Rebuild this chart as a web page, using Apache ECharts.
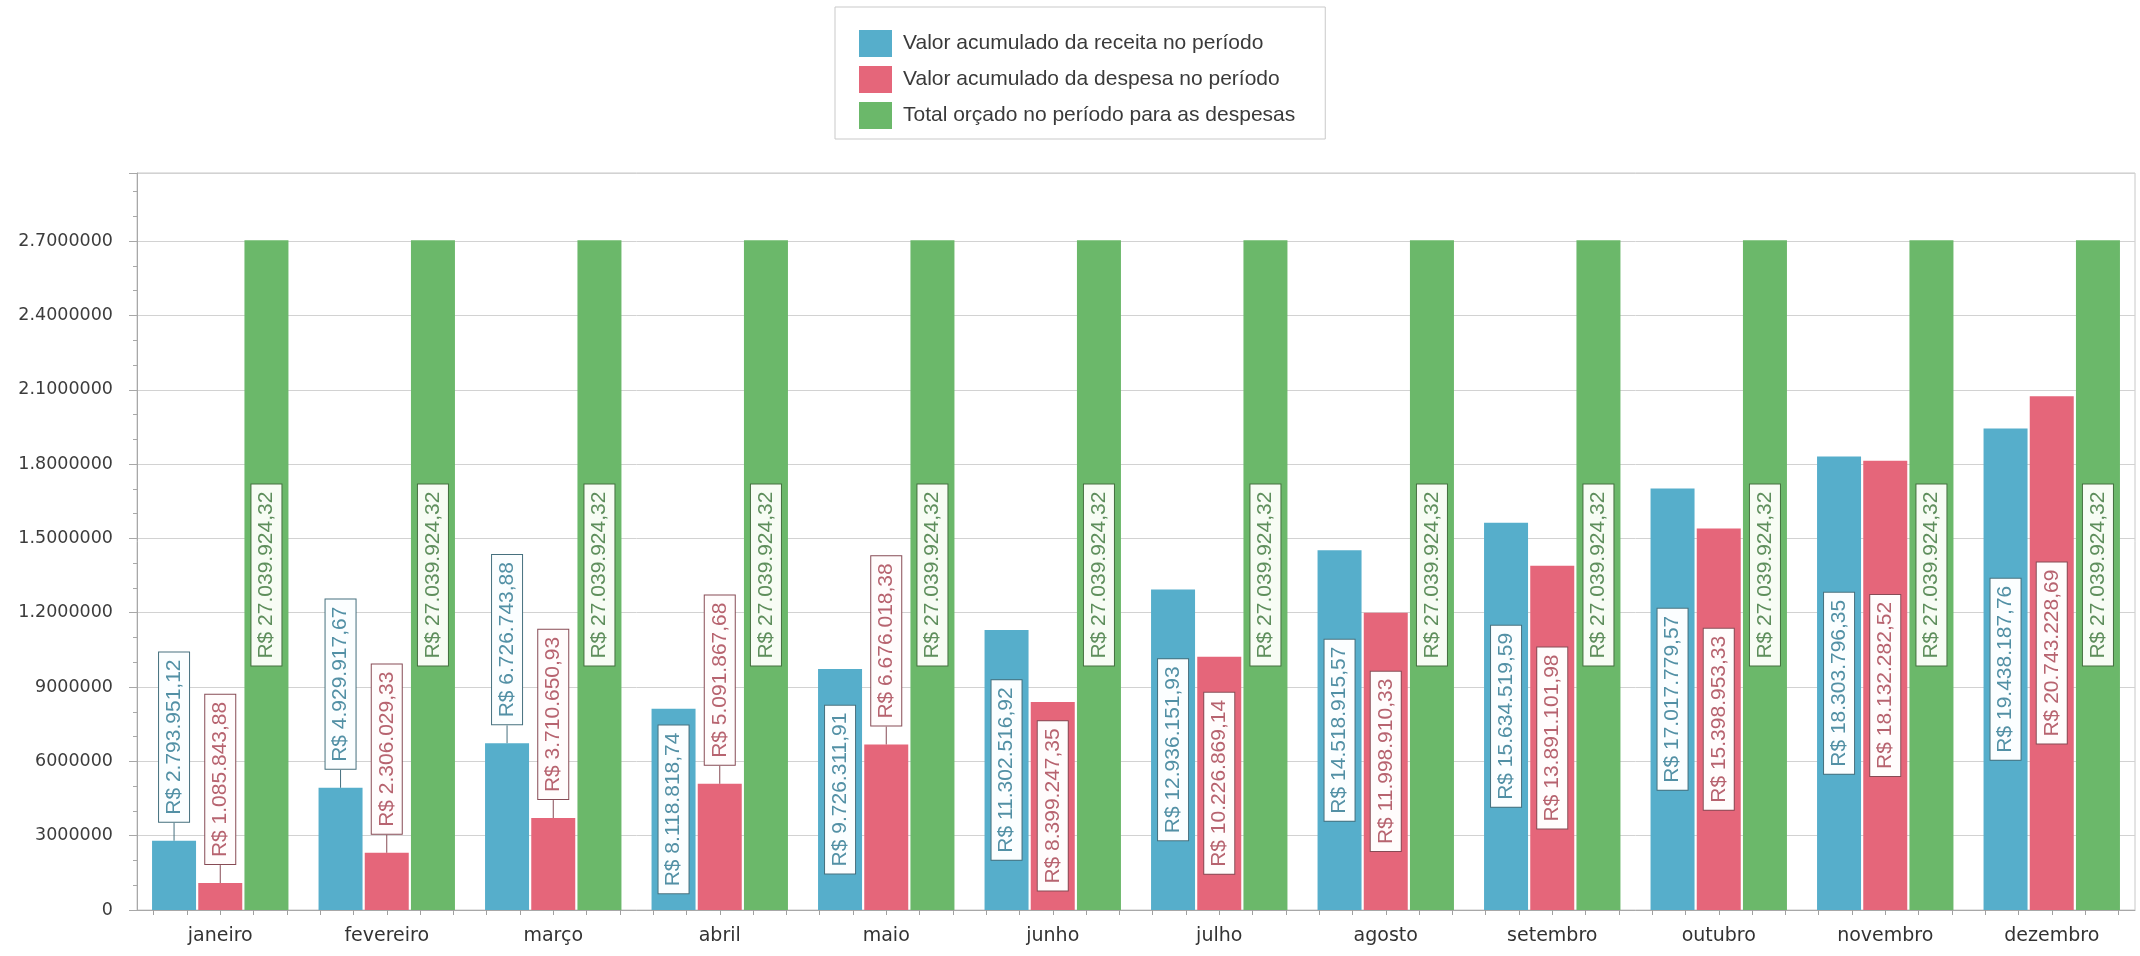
<!DOCTYPE html>
<html>
<head>
<meta charset="utf-8">
<script src="https://cdn.jsdelivr.net/npm/echarts@6/dist/echarts.min.js"></script>
<style>
  html, body { margin: 0; padding: 0; background: #ffffff; }
  #chart { width: 2140px; height: 956px; }
</style>
</head>
<body>
<div id="chart"></div>
<script>
// ---------------- data ----------------
const months = ['janeiro', 'fevereiro', 'março', 'abril', 'maio', 'junho',
                'julho', 'agosto', 'setembro', 'outubro', 'novembro', 'dezembro'];

const receita = [2793951.12, 4929917.67, 6726743.88, 8118818.74, 9726311.91, 11302516.92,
                 12936151.93, 14518915.57, 15634519.59, 17017779.57, 18303796.35, 19438187.76];

const despesa = [1085843.88, 2306029.33, 3710650.93, 5091867.68, 6676018.38, 8399247.35,
                 10226869.14, 11998910.33, 13891101.98, 15398953.33, 18132282.52, 20743228.69];

const orcado = [27039924.32, 27039924.32, 27039924.32, 27039924.32, 27039924.32, 27039924.32,
                27039924.32, 27039924.32, 27039924.32, 27039924.32, 27039924.32, 27039924.32];

const seriesNames = ['Valor acumulado da receita no período',
                     'Valor acumulado da despesa no período',
                     'Total orçado no período para as despesas'];

const yTickLabels = ['0', '3000000', '6000000', '9000000', '1.2000000', '1.5000000',
                     '1.8000000', '2.1000000', '2.4000000', '2.7000000'];

// ---------------- helpers ----------------
function brl(v) {
  const neg = v < 0;
  const cents = Math.round(Math.abs(v) * 100);
  let intPart = Math.floor(cents / 100).toString();
  const dec = (cents % 100).toString().padStart(2, '0');
  intPart = intPart.replace(/\B(?=(\d{3})+(?!\d))/g, '.');
  return (neg ? '-' : '') + 'R$ ' + intPart + ',' + dec;
}

const OUTSIDE_LIMIT = 7500000;

const styles = [
  { bar: '#56aecb', text: '#5290a5', border: '#46707e', bg: '#fbfeff' },
  { bar: '#e5667a', text: '#b7636f', border: '#874b55', bg: '#fffcfc' },
  { bar: '#6bb86a', text: '#5e8e5c', border: '#44703f', bg: '#f7fcf4' }
];

function baseLabel(st) {
  return {
    show: true,
    rotate: 90,
    formatter: (p) => brl(p.value),
    fontFamily: 'Liberation Sans',
    fontSize: 21,
    color: st.text,
    backgroundColor: st.bg,
    borderColor: st.border,
    borderWidth: 1,
    padding: [5, 7, 4, 7]
  };
}

function buildData(values, st, allowOutside) {
  return values.map((v) => {
    const outside = allowOutside && v < OUTSIDE_LIMIT;
    if (outside) {
      return {
        value: v,
        label: { position: 'top', distance: 19, align: 'left', verticalAlign: 'middle' },
        labelLine: { show: true, length2: 0, lineStyle: { color: st.border, width: 1 } }
      };
    }
    return {
      value: v,
      label: { position: 'inside', align: 'center', verticalAlign: 'middle' },
      labelLine: { show: false }
    };
  });
}

const tickSlots = [];
for (let i = 0; i < months.length * 5; i++) tickSlots.push('');

function makeSeries(idx, values, allowOutside) {
  const st = styles[idx];
  return {
    name: seriesNames[idx],
    type: 'bar',
    xAxisIndex: 0,
    yAxisIndex: 0,
    barWidth: 44,
    barGap: '5%',
    itemStyle: { color: st.bar },
    label: baseLabel(st),
    labelLine: { show: false },
    data: buildData(values, st, allowOutside),
    animation: false
  };
}

const chart = echarts.init(document.getElementById('chart'), null, { renderer: 'canvas' });

chart.setOption({
  backgroundColor: '#ffffff',
  animation: false,
  legend: {
    orient: 'vertical',
    left: 835,
    top: 7,
    padding: [23, 30, 10, 24],
    itemWidth: 33,
    itemHeight: 27,
    itemGap: 9,
    icon: 'rect',
    borderColor: '#c9c9c9',
    borderWidth: 1,
    backgroundColor: '#ffffff',
    textStyle: { fontFamily: 'Liberation Sans', fontSize: 21, color: '#3a3a3a', padding: [0, 0, 0, 6] },
    data: seriesNames
  },
  grid: {
    left: 137,
    right: 5,
    top: 173,
    bottom: 46,
    show: true,
    borderColor: '#c8c8c8',
    borderWidth: 1
  },
  xAxis: [
    {
      type: 'category',
      position: 'bottom',
      data: months,
      axisLine: { show: true, lineStyle: { color: '#a8a8a8' } },
      axisTick: { show: false },
      axisLabel: { fontFamily: 'DejaVu Sans', fontSize: 19, color: '#333333', margin: 17 },
      splitLine: { show: false }
    },
    {
      type: 'category',
      position: 'bottom',
      data: tickSlots,
      axisLine: { show: false },
      axisTick: { show: true, alignWithLabel: true, interval: 0, length: 5, lineStyle: { color: '#a0a0a0' } },
      axisLabel: { show: false },
      splitLine: { show: false }
    }
  ],
  yAxis: {
    type: 'value',
    min: 0,
    max: 29750000,
    interval: 3000000,
    axisLine: { show: true, lineStyle: { color: '#a8a8a8' } },
    axisTick: { show: true, length: 8, lineStyle: { color: '#a8a8a8' } },
    minorTick: { show: true, splitNumber: 3, length: 4, lineStyle: { color: '#a8a8a8' } },
    minorSplitLine: { show: false },
    splitLine: { show: true, lineStyle: { color: '#d2d2d2', width: 1 } },
    axisLabel: {
      fontFamily: 'DejaVu Sans',
      fontSize: 17.5,
      color: '#3c3c3c',
      margin: 24,
      formatter: (v) => {
        const i = Math.round(v / 3000000);
        return (yTickLabels[i] !== undefined && Math.abs(v - i * 3000000) < 1) ? yTickLabels[i] : '';
      }
    }
  },
  series: [
    makeSeries(0, receita, true),
    makeSeries(1, despesa, true),
    makeSeries(2, orcado, false)
  ]
});
</script>
</body>
</html>
